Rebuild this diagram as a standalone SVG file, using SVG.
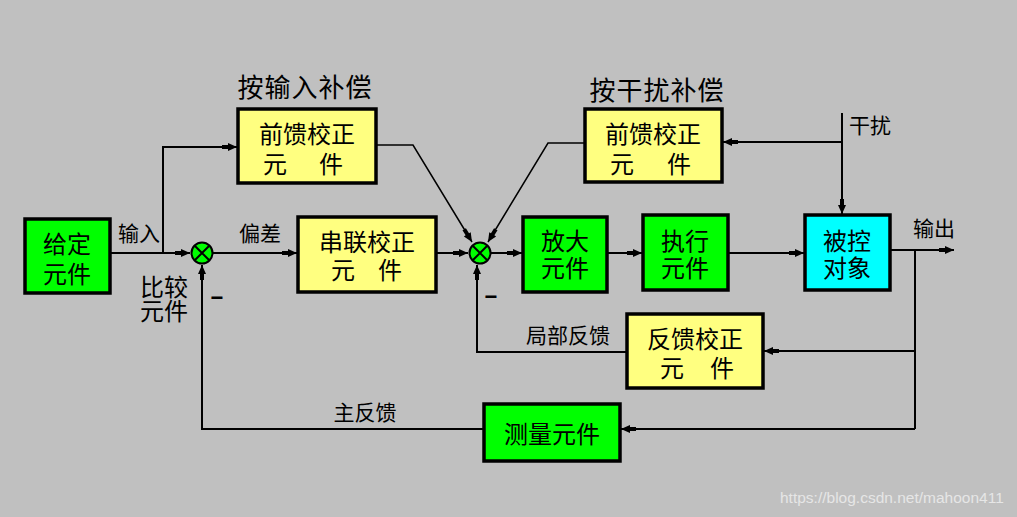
<svg xmlns="http://www.w3.org/2000/svg" width="1017" height="517" viewBox="0 0 1017 517">
<style>
.box{stroke:#000;stroke-width:3.5}
.g{fill:#00ff00}
.y{fill:#ffff80}
.c{fill:#00ffff}
.t{font-family:"Noto Sans CJK SC","Noto Sans CJK JP",sans-serif;font-size:24px;fill:#000;text-anchor:middle}
.l{font-family:"Noto Sans CJK SC","Noto Sans CJK JP",sans-serif;font-size:21px;fill:#000;text-anchor:middle}
.h{font-family:"Noto Sans CJK SC","Noto Sans CJK JP",sans-serif;font-size:26px;fill:#000;text-anchor:middle;letter-spacing:1px}
.w{stroke:#000;stroke-width:2;fill:none}
.d{stroke:#000;stroke-width:1.5;fill:none}
.j{fill:#00ff00;stroke:#000;stroke-width:2}
.m{font-family:"Liberation Sans",sans-serif;font-size:22px;font-weight:bold;text-anchor:middle;fill:#000}
</style>
<defs>
<marker id="a" markerUnits="userSpaceOnUse" markerWidth="16" markerHeight="10" viewBox="0 0 16 10" refX="15" refY="5" orient="auto">
<path d="M0,3 H6 V1 L15,5 L6,9 V7 H0 Z" fill="#000"/>
</marker>
</defs>
<rect width="1017" height="517" fill="#c0c0c0"/>

<g id="connectors">
<path class="w" d="M110,253 H190" marker-end="url(#a)"/>
<path class="w" d="M163,253 V147 H237" marker-end="url(#a)"/>
<path class="w" d="M213,253 H297" marker-end="url(#a)"/>
<path class="w" d="M436,253 H468" marker-end="url(#a)"/>
<path class="d" d="M376,145 H413 L472,242" marker-end="url(#a)"/>
<path class="d" d="M585,143 H548 L488,242" marker-end="url(#a)"/>
<path class="w" d="M491,253 H522" marker-end="url(#a)"/>
<path class="w" d="M607,253 H642" marker-end="url(#a)"/>
<path class="w" d="M728,253 H804" marker-end="url(#a)"/>
<path class="w" d="M890,250 H954" marker-end="url(#a)"/>
<path class="w" d="M915,250 V429"/>
<path class="w" d="M915,351 H764" marker-end="url(#a)"/>
<path class="w" d="M627,352 H477 V265" marker-end="url(#a)"/>
<path class="w" d="M915,429 H621" marker-end="url(#a)"/>
<path class="w" d="M484,429 H202 V265" marker-end="url(#a)"/>
<path class="w" d="M842,113 V214" marker-end="url(#a)"/>
<path class="w" d="M842,142 H723" marker-end="url(#a)"/>
</g>

<g id="n-given">
<rect class="box g" x="25" y="219" width="85" height="74"/>
<text class="t"><tspan x="67" y="253">给定</tspan><tspan x="67" y="283">元件</tspan></text>
</g>

<g id="n-sum1">
<circle class="j" cx="202" cy="253" r="10.5"/>
<path class="w" d="M195,246 L209,260 M209,246 L195,260" stroke-width="1.5"/>
</g>

<g id="n-ff1">
<rect class="box y" x="238" y="109" width="138" height="74"/>
<text class="t"><tspan x="307" y="143">前馈校正</tspan><tspan x="275" y="173">元</tspan><tspan x="331" y="173">件</tspan></text>
</g>

<g id="n-series">
<rect class="box y" x="298" y="217" width="138" height="75"/>
<text class="t"><tspan x="367" y="251">串联校正</tspan><tspan x="343" y="279">元</tspan><tspan x="390" y="279">件</tspan></text>
</g>

<g id="n-sum2">
<circle class="j" cx="480" cy="253" r="10.5"/>
<path class="w" d="M473,246 L487,260 M487,246 L473,260" stroke-width="1.5"/>
</g>

<g id="n-ff2">
<rect class="box y" x="585" y="109" width="137" height="73"/>
<text class="t"><tspan x="653" y="143">前馈校正</tspan><tspan x="622" y="173">元</tspan><tspan x="679" y="173">件</tspan></text>
</g>

<g id="n-amp">
<rect class="box g" x="523" y="217" width="84" height="75"/>
<text class="t"><tspan x="565" y="250">放大</tspan><tspan x="565" y="277">元件</tspan></text>
</g>

<g id="n-exec">
<rect class="box g" x="643" y="215" width="85" height="75"/>
<text class="t"><tspan x="685" y="250">执行</tspan><tspan x="685" y="277">元件</tspan></text>
</g>

<g id="n-plant">
<rect class="box c" x="805" y="215" width="85" height="75"/>
<text class="t"><tspan x="847" y="250">被控</tspan><tspan x="847" y="277">对象</tspan></text>
</g>

<g id="n-fb">
<rect class="box y" x="627" y="314" width="136" height="74"/>
<text class="t"><tspan x="695" y="348">反馈校正</tspan><tspan x="672" y="377">元</tspan><tspan x="722" y="377">件</tspan></text>
</g>

<g id="n-meas">
<rect class="box g" x="484" y="404" width="136" height="57"/>
<text class="t" x="552" y="443">测量元件</text>
</g>

<g id="labels">
<text class="h" x="305" y="97">按输入补偿</text>
<text class="h" x="657" y="100">按干扰补偿</text>
<text class="l" x="139" y="241">输入</text>
<text class="l" x="260" y="241">偏差</text>
<text class="t"><tspan x="164" y="296">比较</tspan><tspan x="164" y="320">元件</tspan></text>
<text class="l" x="870" y="133">干扰</text>
<text class="l" x="934" y="236">输出</text>
<text class="l" x="568" y="343">局部反馈</text>
<text class="l" x="365" y="420">主反馈</text>
<text class="m" x="217" y="305">−</text>
<text class="m" x="491" y="304">−</text>
<text x="780" y="503" font-family="Liberation Sans,Arial,sans-serif" font-size="15.5" fill="#e6e6e6">https://blog.csdn.net/mahoon411</text>
</g>
</svg>
